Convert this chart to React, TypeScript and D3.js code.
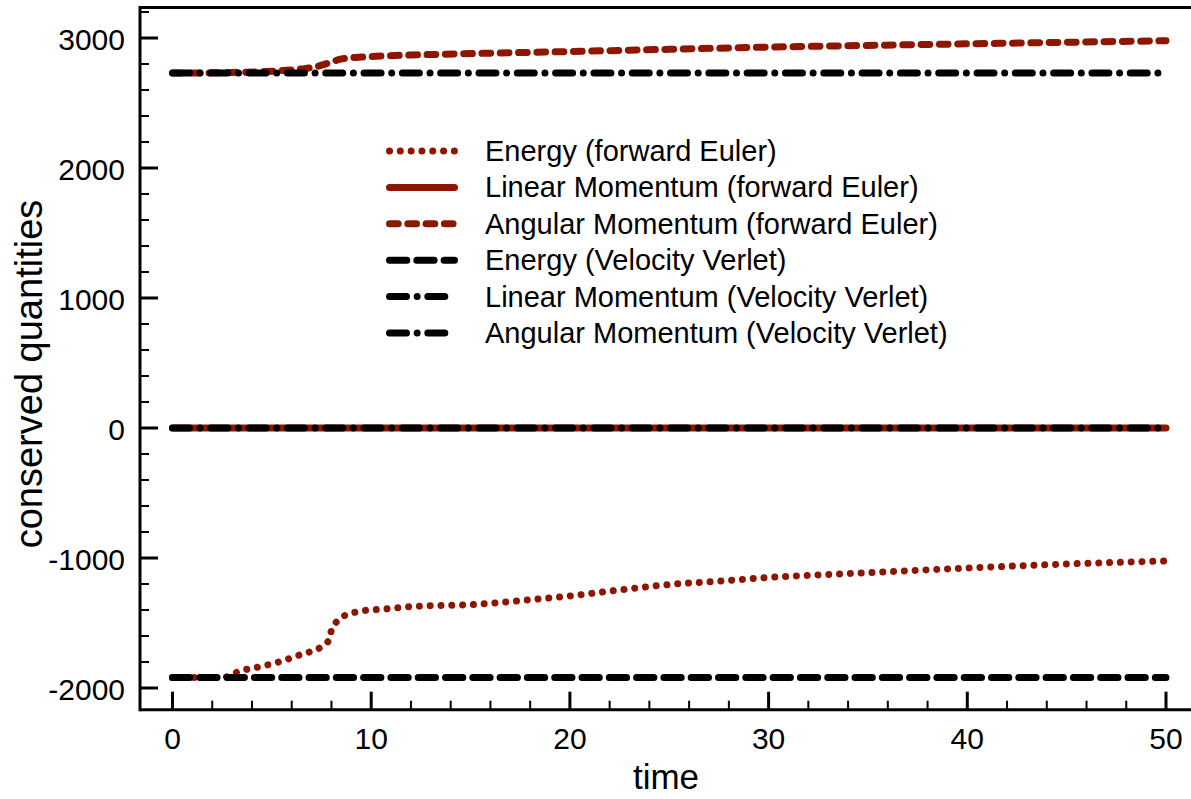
import React from "react";
import * as d3 from "d3";

const W = 1191;
const H = 799;

// time samples and values
const energyFE_t = [0, 1, 2, 2.6, 3.0, 3.3, 4.4, 5.4, 6.5, 7.5, 7.9, 8.0, 8.35, 8.85, 9.35, 9.85, 10.5, 11.5, 12.6, 15, 17.5, 20, 22.5, 25, 27.5, 30, 35, 40, 45, 50];
const energyFE_v = [-1920, -1920, -1920, -1918, -1895, -1875, -1836, -1798, -1740, -1682, -1625, -1554, -1477, -1431, -1413, -1400, -1395, -1380, -1369, -1359, -1328, -1292, -1246, -1204, -1178, -1150, -1113, -1077, -1046, -1023];

const angFE_t = [0, 2, 3, 4.5, 5.5, 6.5, 7.2, 7.6, 8.0, 8.4, 9.0, 9.5, 10.6, 12, 15, 20, 25, 30, 35, 40, 45, 50];
const angFE_v = [2730, 2732, 2735, 2741, 2749, 2762, 2778, 2795, 2815, 2836, 2848, 2853, 2862, 2869, 2880, 2896, 2913, 2930, 2943, 2955, 2967, 2979];

const linFE_t = [0, 50];
const linFE_v = [0, 0];

const energyVV_t = [0, 50];
const energyVV_v = [-1920, -1920];

const linVV_t = [0, 50];
const linVV_v = [0, 0];

const angVV_t = [0, 50];
const angVV_v = [2730, 2730];

const xTicksMajor = [0, 10, 20, 30, 40, 50];
const yTicksMajor = [-2000, -1000, 0, 1000, 2000, 3000];
const yTickLabels = ["-2000", "-1000", "0", "1000", "2000", "3000"];

const legendLabels = [
  "Energy (forward Euler)",
  "Linear Momentum (forward Euler)",
  "Angular Momentum (forward Euler)",
  "Energy (Velocity Verlet)",
  "Linear Momentum (Velocity Verlet)",
  "Angular Momentum (Velocity Verlet)",
];

const RED = "#8e1600";
const BLACK = "#000000";

const styles = [
  { color: RED, dash: "0.01 10.8" },
  { color: RED, dash: "" },
  { color: RED, dash: "8.7 9.6" },
  { color: BLACK, dash: "17.3 10" },
  { color: BLACK, dash: "17 10.65 0.01 10.65" },
  { color: BLACK, dash: "17 10.65 0.01 10.65" },
];

const FONT = "'Liberation Sans', Arial, Helvetica, sans-serif";

export default function App() {
  const x = d3.scaleLinear().domain([0, 50]).range([172.5, 1166]);
  const y = d3.scaleLinear().domain([-2000, 3000]).range([688, 38]);

  const left = 140;
  const top = 7.5;
  const bottom = 709.7;
  const right = 1195;

  const line = d3
    .line<[number, number]>()
    .x((d) => x(d[0]))
    .y((d) => y(d[1]))
    .curve(d3.curveMonotoneX);

  const zip = (t: number[], v: number[]) => t.map((tt, i) => [tt, v[i]] as [number, number]);

  const series = [
    { data: zip(energyFE_t, energyFE_v), s: styles[0] },
    { data: zip(linFE_t, linFE_v), s: styles[1] },
    { data: zip(angFE_t, angFE_v), s: styles[2] },
    { data: zip(energyVV_t, energyVV_v), s: styles[3] },
    { data: zip(linVV_t, linVV_v), s: styles[4] },
    { data: zip(angVV_t, angVV_v), s: styles[5] },
  ];
  const drawOrder = [1, 0, 2, 3, 4, 5];

  const xMinor = d3.range(0, 50.001, 2).filter((v) => Math.round(v) % 10 !== 0);
  const yMinor = d3.range(-2000, 3201, 200).filter((v) => Math.round(v) % 1000 !== 0);

  const legX0 = 389.5;
  const legX1 = 454.5;
  const legY0 = 151;
  const legDy = 36.4;
  const legTextX = 485;

  return (
    <svg
      width={W}
      height={H}
      style={{ position: "absolute", left: 0, top: 0, display: "block", background: "#fff" }}
      fontFamily={FONT}
    >
      <rect x={0} y={0} width={W} height={H} fill="#fff" />
      {/* series */}
      {drawOrder.map((i) => (
        <path
          key={"s" + i}
          d={line(series[i].data) || ""}
          fill="none"
          stroke={series[i].s.color}
          strokeWidth={7}
          strokeLinecap="round"
          strokeLinejoin="round"
          strokeDasharray={series[i].s.dash || undefined}
        />
      ))}

      {/* frame */}
      <line x1={left} x2={right} y1={top} y2={top} stroke="#000" strokeWidth={3} />
      <line x1={left} x2={right} y1={bottom} y2={bottom} stroke="#000" strokeWidth={3} />
      <line x1={left} x2={left} y1={top - 1.5} y2={bottom + 1.5} stroke="#000" strokeWidth={3} />

      {/* x ticks */}
      {xTicksMajor.map((t) => (
        <g key={"xt" + t}>
          <line x1={x(t)} x2={x(t)} y1={bottom} y2={bottom - 18} stroke="#000" strokeWidth={3} />
          <text x={x(t)} y={749} textAnchor="middle" fontSize={30} fill="#000">
            {String(t)}
          </text>
        </g>
      ))}
      {xMinor.map((t) => (
        <line key={"xm" + t} x1={x(t)} x2={x(t)} y1={bottom} y2={bottom - 9} stroke="#000" strokeWidth={2} />
      ))}

      {/* y ticks */}
      {yTicksMajor.map((v, i) => (
        <g key={"yt" + v}>
          <line x1={left} x2={left + 18} y1={y(v)} y2={y(v)} stroke="#000" strokeWidth={3} />
          <text x={125} y={y(v) + 11.5} textAnchor="end" fontSize={30} fill="#000">
            {yTickLabels[i]}
          </text>
        </g>
      ))}
      {yMinor.map((v) => (
        <line key={"ym" + v} x1={left} x2={left + 9} y1={y(v)} y2={y(v)} stroke="#000" strokeWidth={2} />
      ))}

      {/* axis titles */}
      <text x={666} y={789} textAnchor="middle" fontSize={35} fill="#000">
        time
      </text>
      <text
        transform={`translate(42,374) rotate(-90)`}
        textAnchor="middle"
        fontSize={38}
        fill="#000"
      >
        conserved quantities
      </text>

      {/* legend */}
      {legendLabels.map((lab, i) => {
        const yy = legY0 + i * legDy;
        return (
          <g key={"lg" + i}>
            <line
              x1={legX0}
              x2={legX1}
              y1={yy}
              y2={yy}
              stroke={styles[i].color}
              strokeWidth={7}
              strokeLinecap="round"
              strokeDasharray={styles[i].dash || undefined}
            />
            <text x={legTextX} y={yy + 10} fontSize={29} fill="#000">
              {lab}
            </text>
          </g>
        );
      })}
    </svg>
  );
}
